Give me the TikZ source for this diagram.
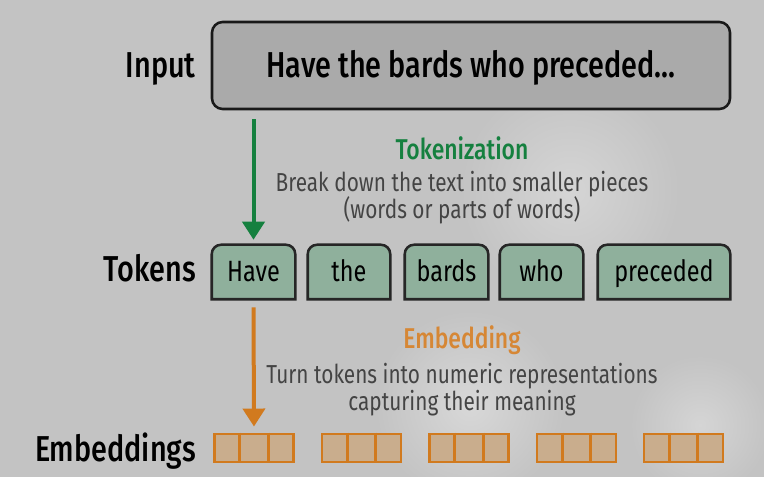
\documentclass[tikz,border=0pt]{standalone}
\usepackage{fontspec}
\setmainfont{Fira Sans}[FakeStretch=0.8]
\IfFontExistsTF{Fira Sans Medium}{\newfontfamily\medfont{Fira Sans Medium}[FakeStretch=0.8]}{\newfontfamily\medfont{Fira Sans}[FakeStretch=0.8,UprightFont=*,UprightFeatures={FakeBold=1}]}
\usetikzlibrary{arrows.meta}
\definecolor{bggray}{HTML}{C3C3C3}
\definecolor{inputfill}{HTML}{AAAAAA}
\definecolor{tokgreen}{HTML}{15803F}
\definecolor{tokfill}{HTML}{8FB09C}
\definecolor{embor}{HTML}{D17A1E}
\definecolor{embfill}{HTML}{C9AD8D}
\definecolor{desc}{HTML}{444444}
\pgfdeclarelayer{bg}
\pgfsetlayers{bg,main}

\begin{document}
\begin{tikzpicture}[x=0.75pt,y=-0.75pt,
  lab/.style={font=\medfont\fontsize{27}{30}\selectfont,anchor=base east,inner sep=0},
  inbox/.style={draw=black!90,fill=inputfill,line width=1.9pt,rounded corners=8pt,
    minimum width=388.5pt,minimum height=65.25pt,text height=18.75pt,text depth=0pt,
    font=\medfont\fontsize{27}{30}\selectfont},
  tok/.style={minimum height=40.5pt,text height=15pt,text depth=0pt,inner sep=0,
    font=\fontsize{22}{24}\selectfont},
  tokframe/.style={draw=black!85,fill=tokfill,line width=1.9pt},
  emb/.style={draw=embor,fill=embfill,line width=2.2pt,minimum width=59.25pt,minimum height=21pt,inner sep=0},
  head/.style={anchor=base,inner sep=0,font=\medfont\fontsize{21.5}{24}\selectfont},
  desc/.style={anchor=base,inner sep=0,text=desc,font=\fontsize{19.5}{22}\selectfont},
  flow/.style={line width=3pt,-{Triangle[length=13.5pt,width=16.5pt]}}]
\useasboundingbox(0,0)rectangle(764,477);
\begin{pgfonlayer}{bg}
\fill[bggray](0,0)rectangle(764,477);
\shade[inner color=white!35!bggray,outer color=bggray](470,405)circle(95);
\shade[inner color=white!30!bggray,outer color=bggray](570,190)circle(110);
\shade[inner color=white!30!bggray,outer color=bggray](700,425)circle(70);
\end{pgfonlayer}

\node[inbox]at(471,65.5)(input){Have the bards who preceded...};
\node[lab]at(196,78)(inlab){Input};
\node[lab]at(196,282)(toklab){Tokens};
\node[lab]at(196,461)(emblab){Embeddings};

\foreach\w/\cx/\tw[count=\i]in{Have/253.5/62.25,the/349/61.5,bards/446.5/62.25,who/541.5/62.25,preceded/664/99}{
    \node[tok,minimum width=\tw pt]at(\cx,272)(tok\i){\w};
    \begin{pgfonlayer}{bg}
    \draw[tokframe](tok\i.south west)[rounded corners=7pt]--(tok\i.north west)--(tok\i.north east)[sharp corners]--(tok\i.south east)--cycle;
    \end{pgfonlayer}
}
\foreach\cx[count=\i]in{254,361.5,469,576.5,683.5}{
    \node[emb]at(\cx,448)(emb\i){};
    \draw[embor,line width=2.2pt]([xshift=20pt]emb\i.north west)--([xshift=20pt]emb\i.south west)
        ([xshift=-20pt]emb\i.north east)--([xshift=-20pt]emb\i.south east);
}

\node[head,text=tokgreen]at(462,160)(tokhead){Tokenization};
\node[desc]at(462,192)(tokdesc1){Break down the text into smaller pieces};
\node[desc]at(462,219)(tokdesc2){(words or parts of words)};
\node[head,text=embor!90!white]at(462,349)(embhead){Embedding};
\node[desc]at(462,383)(embdesc1){Turn tokens into numeric representations};
\node[desc]at(462,410)(embdesc2){capturing their meaning};

\draw[flow,tokgreen,shorten <=6.75pt,shorten >=3.75pt](input.south -| tok1)--(tok1.north);
\draw[flow,embor,shorten <=6pt,shorten >=4.5pt](tok1.south)--(emb1.north);
\end{tikzpicture}
\end{document}
